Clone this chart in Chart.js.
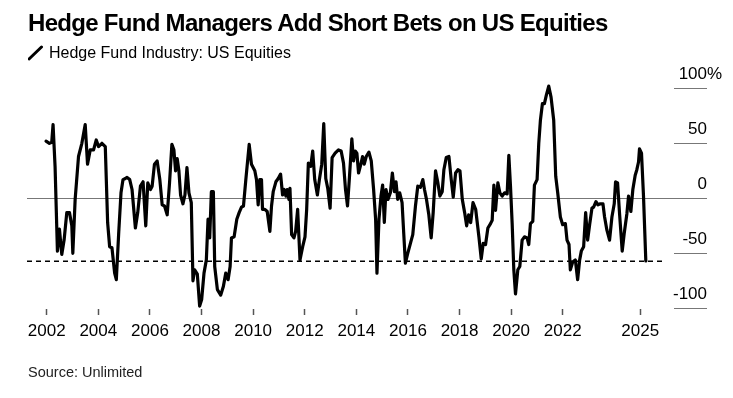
<!DOCTYPE html>
<html>
<head>
<meta charset="utf-8">
<script src="https://cdn.jsdelivr.net/npm/chart.js@4.4.1/dist/chart.umd.min.js"></script>
<style>
  body { margin: 0; background: #fff; font-family: 'Liberation Sans', Arial, sans-serif; color: #000; }
  .wrap { position: relative; width: 733px; height: 398px; overflow: hidden; }
  canvas { position: absolute; left: 0; top: 0; }
  .title { position: absolute; left: 28px; top: 11px; font-size: 24px; line-height: 24px; font-weight: bold; letter-spacing: -0.7px; white-space: nowrap; }
  .legend { position: absolute; left: 28px; top: 45px; font-size: 16px; line-height: 16px; white-space: nowrap; }
  .legend svg { position: absolute; left: 0; top: 0; }
  .legend span { position: absolute; left: 21px; top: 0; }
  .source { position: absolute; left: 28px; top: 365px; font-size: 14.5px; line-height: 14.5px; color: #222; white-space: nowrap; }
</style>
</head>
<body>
<div class="wrap">
  <canvas id="chart" width="733" height="398"></canvas>
  <div class="title">Hedge Fund Managers Add Short Bets on US Equities</div>
  <div class="legend">
    <svg width="16" height="16"><line x1="1" y1="14" x2="13.5" y2="2" stroke="#000" stroke-width="3" stroke-linecap="round"/></svg>
    <span>Hedge Fund Industry: US Equities</span>
  </div>
  <div class="source">Source: Unlimited</div>
</div>
<script>
'use strict';
// series (x = decimal year, y = %)
const dates = [
  2001.974, 2002.104, 2002.195, 2002.246, 2002.324, 2002.415, 2002.493, 2002.584, 2002.674, 2002.778,
  2002.882, 2002.973, 2003.012, 2003.102, 2003.232, 2003.362, 2003.492, 2003.582, 2003.686, 2003.816,
  2003.920, 2004.010, 2004.140, 2004.270, 2004.361, 2004.438, 2004.529, 2004.633, 2004.698, 2004.789,
  2004.879, 2004.957, 2005.048, 2005.113, 2005.217, 2005.307, 2005.437, 2005.528, 2005.632, 2005.735,
  2005.839, 2005.917, 2006.021, 2006.086, 2006.176, 2006.280, 2006.384, 2006.475, 2006.566, 2006.669,
  2006.760, 2006.851, 2006.929, 2006.994, 2007.058, 2007.123, 2007.188, 2007.279, 2007.357, 2007.435,
  2007.512, 2007.603, 2007.668, 2007.733, 2007.837, 2007.927, 2008.005, 2008.096, 2008.187, 2008.252,
  2008.317, 2008.381, 2008.459, 2008.511, 2008.615, 2008.744, 2008.848, 2008.939, 2009.030, 2009.108,
  2009.160, 2009.263, 2009.367, 2009.458, 2009.549, 2009.626, 2009.717, 2009.847, 2009.935, 2010.065,
  2010.130, 2010.195, 2010.259, 2010.324, 2010.363, 2010.454, 2010.545, 2010.649, 2010.713, 2010.778,
  2010.882, 2010.973, 2011.064, 2011.141, 2011.206, 2011.271, 2011.323, 2011.388, 2011.427, 2011.492,
  2011.582, 2011.647, 2011.725, 2011.816, 2011.920, 2012.010, 2012.075, 2012.140, 2012.231, 2012.309,
  2012.387, 2012.490, 2012.568, 2012.659, 2012.737, 2012.815, 2012.892, 2012.983, 2013.061, 2013.178,
  2013.307, 2013.411, 2013.502, 2013.580, 2013.658, 2013.735, 2013.826, 2013.891, 2013.956, 2014.021,
  2014.086, 2014.176, 2014.241, 2014.306, 2014.384, 2014.488, 2014.578, 2014.669, 2014.747, 2014.799,
  2014.877, 2014.955, 2015.019, 2015.084, 2015.149, 2015.227, 2015.318, 2015.396, 2015.473, 2015.538,
  2015.603, 2015.681, 2015.772, 2015.837, 2015.901, 2015.992, 2016.096, 2016.187, 2016.291, 2016.381,
  2016.485, 2016.576, 2016.641, 2016.719, 2016.809, 2016.900, 2016.978, 2017.069, 2017.160, 2017.237,
  2017.328, 2017.393, 2017.484, 2017.588, 2017.678, 2017.756, 2017.847, 2017.938, 2018.016, 2018.106,
  2018.197, 2018.275, 2018.353, 2018.431, 2018.521, 2018.625, 2018.700, 2018.750, 2018.840, 2018.918,
  2019.008, 2019.098, 2019.201, 2019.265, 2019.330, 2019.394, 2019.485, 2019.562, 2019.652, 2019.742,
  2019.845, 2019.910, 2019.974, 2020.039, 2020.103, 2020.168, 2020.258, 2020.335, 2020.425, 2020.515,
  2020.619, 2020.683, 2020.747, 2020.838, 2020.902, 2021.005, 2021.070, 2021.134, 2021.211, 2021.289,
  2021.366, 2021.456, 2021.546, 2021.649, 2021.727, 2021.804, 2021.907, 2021.997, 2022.101, 2022.165,
  2022.242, 2022.294, 2022.384, 2022.487, 2022.577, 2022.655, 2022.719, 2022.809, 2022.887, 2022.964,
  2023.041, 2023.131, 2023.196, 2023.286, 2023.363, 2023.454, 2023.557, 2023.621, 2023.711, 2023.814,
  2023.905, 2023.995, 2024.046, 2024.124, 2024.201, 2024.304, 2024.381, 2024.485, 2024.549, 2024.639,
  2024.716, 2024.807, 2024.871, 2024.936, 2024.974, 2025.052, 2025.129, 2025.219
];
const values = [
  52, 50, 51, 67, 29, -48, -28, -51, -38, -13,
  -13, -25, -50, -1, 38, 50, 67, 31, 44, 44,
  53, 47, 50, 47, -22, -44, -45, -68, -74, -32,
  5, 17, 18, 19, 17, 8, -27, -13, 11, 15,
  -25, 14, 8, 11, 31, 34, 17, -6, -7, -15,
  14, 49, 44, 25, 36, 25, 3, -5, 3, 28,
  5, -4, -75, -65, -69, -98, -92, -68, -56, -19,
  -36, 6, 6, -62, -83, -88, -80, -68, -74, -62,
  -36, -35, -19, -13, -8, -7, 17, 49, 31, 25,
  17, -6, 17, 17, -10, -10, -12, -30, -7, 6,
  15, 18, 22, 3, 8, 2, 8, -1, 9, -33,
  -36, -30, -10, -56, -44, -35, -10, 32, 29, 43,
  17, 3, 17, 31, 68, 18, 9, -9, 37, 41,
  44, 43, 32, 8, -7, 20, 54, 34, 43, 41,
  23, 31, 38, 31, 38, 42, 34, 8, -19, -68,
  -19, 2, 12, -22, 8, -1, 5, 23, 6, 15,
  -1, 5, -4, -32, -59, -50, -41, -33, -7, 11,
  10, 17, 8, -1, -15, -36, -13, 25, 14, 2,
  6, 26, 37, 38, 17, 1, 23, 26, 25, -1,
  -13, -25, -15, -22, -4, -10, -25, -35, -55, -41,
  -42, -27, -23, -20, 12, -11, 14, 5, 2, 5,
  4, 39, 11, -23, -65, -87, -65, -62, -38, -35,
  -36, -42, -23, -21, 12, 17, 50, 71, 86, 86,
  94, 102, 92, 71, 20, 5, -17, -24, -23, -38,
  -42, -65, -58, -56, -74, -56, -48, -44, -13, -38,
  -24, -9, -8, -3, -6, -5, -5, -17, -29, -38,
  -17, -5, 15, 14, -14, -48, -32, -14, 2, -12,
  8, 21, 26, 33, 45, 41, 2, -57
];

// dashed reference level
const refLevel = -57.3;
const refDates = [2001.236, 2025.89];

// axis ticks
const xTicks = [2002, 2004, 2006, 2008, 2010, 2012, 2014, 2016, 2018, 2020, 2022, 2025];
const yTicks = [100, 50, 0, -50, -100];

const xMin = 2001.236;
const xMax = 2027.59;
const yMin = -100.64;
const yMax = 107.55;

// right side labels with short grid lines, drawn from the y scale
const rightAxis = {
  id: 'rightAxis',
  beforeDatasetsDraw(chart) {
    const { ctx, chartArea, scales } = chart;
    const y = scales.y;
    const gridRight = 707;
    const gridLeft = 674;
    ctx.save();
    yTicks.forEach(v => {
      const py = Math.round(y.getPixelForValue(v)) + 0.5;
      ctx.beginPath();
      ctx.strokeStyle = '#777';
      ctx.lineWidth = 1;
      ctx.moveTo(v === 0 ? chartArea.left : gridLeft, py);
      ctx.lineTo(gridRight, py);
      ctx.stroke();

      ctx.fillStyle = '#000';
      ctx.font = '17px "Liberation Sans", Arial, sans-serif';
      ctx.textBaseline = 'alphabetic';
      ctx.textAlign = 'right';
      ctx.fillText(String(v), gridRight, py - 10);
      if (v === yTicks[0]) {
        ctx.textAlign = 'left';
        ctx.fillText('%', gridRight, py - 10);
      }
    });
    ctx.restore();
  }
};

const points = dates.map((d, i) => ({ x: d, y: values[i] }));
const refPoints = refDates.map(d => ({ x: d, y: refLevel }));

new Chart(document.getElementById('chart'), {
  type: 'line',
  data: {
    datasets: [
      {
        label: 'Hedge Fund Industry: US Equities',
        data: points,
        borderColor: '#000',
        borderWidth: 3.2,
        borderJoinStyle: 'round',
        borderCapStyle: 'round',
        pointRadius: 0,
        tension: 0,
      },
      {
        label: 'reference',
        data: refPoints,
        borderColor: '#000',
        borderWidth: 1.5,
        borderDash: [5, 4],
        pointRadius: 0,
      },
    ],
  },
  options: {
    responsive: false,
    devicePixelRatio: 1,
    animation: false,
    layout: { padding: { left: 27, right: 26, top: 80, bottom: 49 } },
    plugins: {
      legend: { display: false },
      tooltip: { enabled: false },
    },
    scales: {
      x: {
        type: 'linear',
        min: xMin,
        max: xMax,
        afterBuildTicks: scale => {
          scale.ticks = xTicks.map(v => ({ value: v }));
        },
        afterFit: scale => {
          scale.height = 40;
        },
        ticks: {
          autoSkip: false,
          maxRotation: 0,
          padding: 6,
          color: '#000',
          font: { family: '"Liberation Sans", Arial, sans-serif', size: 17 },
          callback: v => String(v),
        },
        grid: {
          drawOnChartArea: false,
          drawTicks: true,
          tickLength: 6,
          tickWidth: 1.5,
          tickColor: '#555',
        },
        border: { display: false },
      },
      y: {
        display: false,
        min: yMin,
        max: yMax,
      },
    },
  },
  plugins: [rightAxis],
});
</script>
</body>
</html>
